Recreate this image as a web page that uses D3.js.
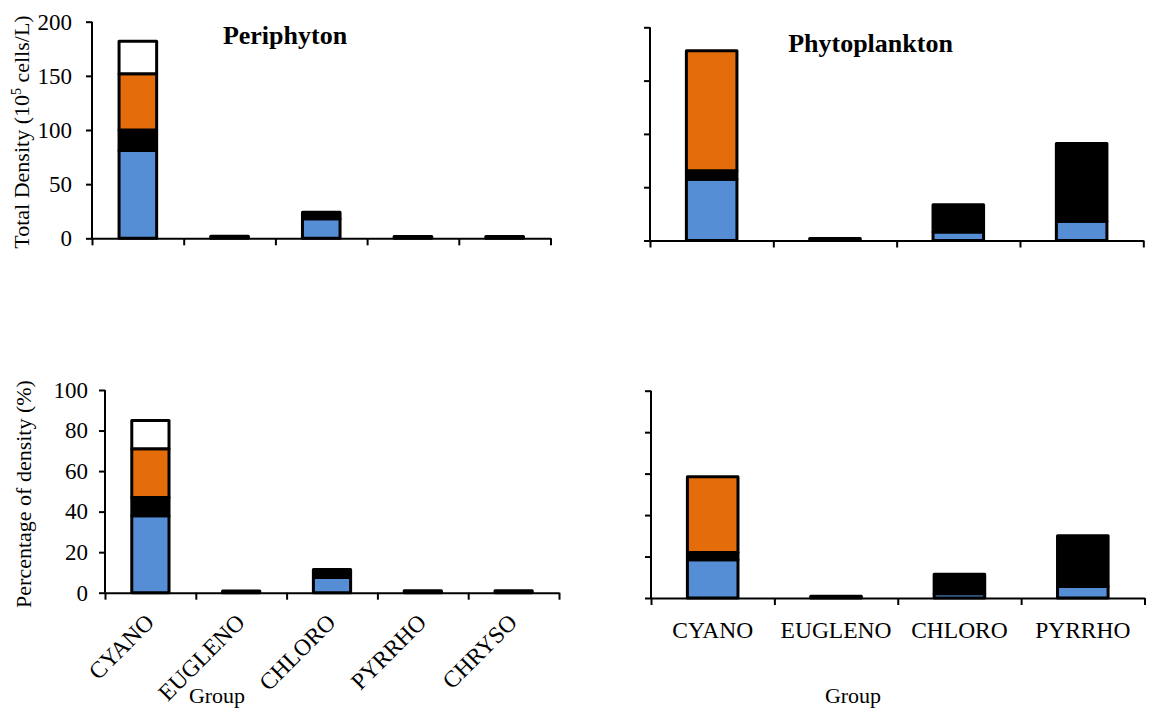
<!DOCTYPE html>
<html>
<head>
<meta charset="utf-8">
<script src="https://cdn.jsdelivr.net/npm/d3@7.9.0/dist/d3.min.js"></script>
<style>
  body { margin: 0; background: #fff; }
  svg { display: block; font-family: "Liberation Serif", "Times New Roman", serif; }
  .axis path, .axis line { stroke: #000; stroke-width: 2; }
  .axis text { fill: #000; font-size: 23px; font-family: "Liberation Serif", serif; }
</style>
</head>
<body>
<svg id="chart" width="1151" height="708"></svg>
<script>
// groups on the x axis
const periGroups = ['CYANO', 'EUGLENO', 'CHLORO', 'PYRRHO', 'CHRYSO'];
const phytoGroups = ['CYANO', 'EUGLENO', 'CHLORO', 'PYRRHO'];

// stacked segments, bottom to top: blue, black, orange, white
const segColors = ['#558ED5', '#000000', '#E46C0A', '#FFFFFF'];

// total density (10^5 cells/L), one row per segment
const periDensity = [
  [81, 0, 18, 0, 0],
  [19, 1.8, 6, 1.6, 1.6],
  [52, 0, 0, 0, 0],
  [30, 0, 0, 0, 0]
];
const phytoDensity = [
  [57.5, 0, 8, 18],
  [8, 1.8, 25.5, 73],
  [112.5, 0, 0, 0],
  [0, 0, 0, 0]
];

// percentage of density (%)
const periPercent = [
  [38, 0, 7.5, 0, 0],
  [9, 0.8, 4, 1, 1],
  [24, 0, 0, 0, 0],
  [14, 0, 0, 0, 0]
];
const phytoPercent = [
  [18.5, 0, 2, 5.5],
  [3.5, 0.8, 9.5, 24.5],
  [36.5, 0, 0, 0],
  [0, 0, 0, 0]
];

const densityTicks = [0, 50, 100, 150, 200];
const percentTicks = [0, 20, 40, 60, 80, 100];

const svg = d3.select('#chart');

function drawPanel(p) {
  const g = svg.append('g');
  const n = p.groups.length;

  let y = d3.scaleLinear().domain([0, p.yMax]).range([p.bottom, p.top]);
  let xEdge = d3.scaleLinear().domain([0, n]).range([p.left, p.right]);
  let x = d3.scaleBand().domain(p.groups).range([p.left, p.right])
    .paddingInner(0.59).paddingOuter(0.295);

  // y axis
  g.append('g')
    .attr('class', 'axis')
    .attr('transform', `translate(${p.left},0)`)
    .call(d3.axisLeft(y).tickValues(p.ticks).tickSize(6).tickSizeOuter(0)
      .tickPadding(p.tickPad)
      .tickFormat(p.showTickLabels ? d3.format('d') : ''))
    .call(a => a.select('.domain').attr('d', `M0,${p.top}V${p.bottom}`));

  // x axis, ticks on the boundaries between groups
  g.append('g')
    .attr('class', 'axis')
    .attr('transform', `translate(0,${p.bottom})`)
    .call(d3.axisBottom(xEdge).tickValues(d3.range(n + 1)).tickSize(7)
      .tickSizeOuter(0).tickFormat(''));

  // stacked bars
  let rows = p.groups.map((grp, i) => {
    let row = { group: grp };
    p.values.forEach((s, k) => { row['s' + k] = s[i]; });
    return row;
  });
  let keys = p.values.map((_, k) => 's' + k);
  let stacked = d3.stack().keys(keys)(rows);

  stacked.forEach((layer, k) => {
    g.append('g')
      .selectAll('rect')
      .data(layer.filter(d => d[1] - d[0] > 0))
      .join('rect')
      .attr('x', d => x(d.data.group))
      .attr('width', x.bandwidth())
      .attr('y', d => y(d[1]))
      .attr('height', d => y(d[0]) - y(d[1]))
      .attr('fill', segColors[k])
      .attr('stroke', '#000')
      .attr('stroke-width', 3)
      .attr('stroke-linejoin', 'round');
  });

  // category labels
  if (p.labels === 'flat') {
    g.append('g').selectAll('text')
      .data(p.groups)
      .join('text')
      .attr('x', d => x(d) + x.bandwidth() / 2)
      .attr('y', p.bottom + 40)
      .attr('text-anchor', 'middle')
      .attr('font-size', 23.5)
      .text(d => d);
  } else if (p.labels === 'rotated') {
    g.append('g').selectAll('text')
      .data(p.groups)
      .join('text')
      .attr('transform', d => `translate(${x(d) + x.bandwidth() / 2 + 5},${p.bottom + 31}) rotate(-45)`)
      .attr('text-anchor', 'end')
      .attr('font-size', 23.5)
      .text(d => d);
  }

  if (p.title) {
    g.append('text')
      .attr('x', p.title.x)
      .attr('y', p.title.y)
      .attr('text-anchor', 'middle')
      .attr('font-size', 26)
      .attr('font-weight', 'bold')
      .text(p.title.text);
  }
}

drawPanel({
  groups: periGroups, values: periDensity, yMax: 200, ticks: densityTicks,
  left: 92, right: 550.5, top: 21.7, bottom: 238.3,
  showTickLabels: true, tickPad: 14, labels: 'none',
  title: { text: 'Periphyton', x: 285, y: 44 }
});

drawPanel({
  groups: phytoGroups, values: phytoDensity, yMax: 200, ticks: densityTicks,
  left: 650, right: 1143.3, top: 27.3, bottom: 240.5,
  showTickLabels: false, tickPad: 14, labels: 'none',
  title: { text: 'Phytoplankton', x: 870.5, y: 52 }
});

drawPanel({
  groups: periGroups, values: periPercent, yMax: 100, ticks: percentTicks,
  left: 105, right: 559, top: 390, bottom: 592.7,
  showTickLabels: true, tickPad: 11, labels: 'rotated'
});

drawPanel({
  groups: phytoGroups, values: phytoPercent, yMax: 100, ticks: percentTicks,
  left: 651, right: 1144.5, top: 390.7, bottom: 598,
  showTickLabels: false, tickPad: 11, labels: 'flat'
});

// axis titles
svg.append('text')
  .attr('transform', 'translate(29,132) rotate(-90)')
  .attr('text-anchor', 'middle')
  .attr('font-size', 22)
  .call(t => {
    t.append('tspan').text('Total Density (10');
    t.append('tspan').attr('font-size', 14).attr('dy', -8).text('5');
    t.append('tspan').attr('dy', 8).text(' cells/L)');
  });

svg.append('text')
  .attr('transform', 'translate(31,494) rotate(-90)')
  .attr('text-anchor', 'middle')
  .attr('font-size', 22)
  .text('Percentage of density (%)');

svg.append('text')
  .attr('x', 217).attr('y', 703)
  .attr('text-anchor', 'middle')
  .attr('font-size', 22)
  .text('Group');

svg.append('text')
  .attr('x', 853).attr('y', 703)
  .attr('text-anchor', 'middle')
  .attr('font-size', 22)
  .text('Group');
</script>
</body>
</html>
